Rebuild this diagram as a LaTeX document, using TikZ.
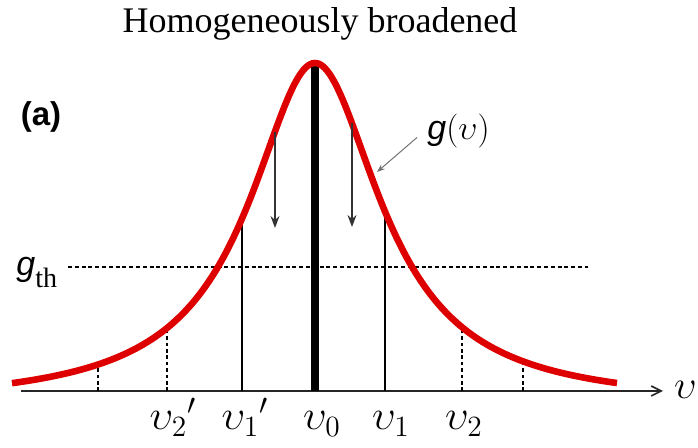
\RequirePackage{fix-cm}
\documentclass[tikz,border=0pt]{standalone}
\usepackage{fontspec}
\setmainfont{Liberation Serif}
\setsansfont{Liberation Sans}
\usepackage{tikz}
\usetikzlibrary{arrows.meta, positioning}

\definecolor{curvered}{RGB}{222,0,0}
\tikzset{
  declare function={lineshape(\x)=42.5+342.5/(1+((\x-315)/80)^2);},
  axis/.style={black!85, line width=0.8pt, -{Straight Barb[length=5pt,width=5pt]}},
  curve/.style={curvered, line width=3.3pt},
  mode/.style={black, line width=1pt},
  centermode/.style={black, line width=3.6pt},
  dropline/.style={black, line width=1.1pt, dash pattern=on 1.8pt off 1.4pt},
  threshold/.style={black, line width=1pt, dash pattern=on 2pt off 1.4pt},
  pull/.style={black!80, line width=0.7pt, -{Stealth[length=6pt,width=4.5pt,inset=2pt]}},
  pointer/.style={black!55, line width=0.5pt, -{Stealth[length=4pt,width=3pt]}},
  freqlabel/.style={anchor=base, inner sep=0pt, font=\fontsize{21}{25}\selectfont},
}

\begin{document}
\begin{tikzpicture}[x=0.5pt, y=0.5pt]
\useasboundingbox (0,0) rectangle (698,448);

% Frequency axis
\coordinate (axl) at (21,57);
\coordinate (axr) at (663,57);
\draw[axis] (axl) -- (axr);
\node[anchor=base east, inner sep=0pt, font=\fontsize{20}{24}\selectfont] (nu) at (697,49) {$\upsilon$};

% Threshold gain
\coordinate (thl) at (68,181);
\coordinate (thr) at (588,181);
\draw[threshold] (thl) -- (thr);
\node[anchor=base west, inner sep=0pt, font=\fontsize{17}{20}\selectfont] (gth) at (16,172)
  {{\sffamily\itshape g}\raisebox{-6pt}{\fontsize{14}{16}\selectfont th}};

% Modes below threshold (dotted)
\foreach \xm/\nm in {98/m4, 167/m2, 462/m3, 523/m5}{
  \coordinate (\nm) at (\xm,{lineshape(\xm)});
  \draw[dropline] (\xm,57) -- (\nm);
}

% Modes above threshold
\coordinate (m1l) at (242,{lineshape(242)});
\coordinate (m1r) at (385,{lineshape(385)});
\coordinate (m0) at (315,{lineshape(315)-3});
\draw[mode] (242,57) -- (m1l);
\draw[mode] (385,57) -- (m1r);
\draw[centermode] (315,57) -- (m0);

% Gain curve
\draw[curve] plot[domain=12:617, samples=140, smooth] (\x,{lineshape(\x)});

% Gain pulled down
\coordinate (pl) at (275,316);
\coordinate (pr) at (352,325);
\draw[pull] (pl) -- ++(0,-96);
\draw[pull] (pr) -- ++(0,-104);

% Curve label
\node[anchor=base west, inner sep=0pt, font=\fontsize{17}{20}\selectfont] (glabel) at (427,308)
  {{\sffamily\itshape g}$(\upsilon)$};
\coordinate (ptr) at (377,276);
\draw[pointer] ([shift={(-10,-6)}]glabel.west) -- (ptr);

% Frequency labels
\node[freqlabel] (n2l) at (173,18) {${\upsilon_2}'$};
\node[freqlabel] (n1l) at (245,18) {${\upsilon_1}'$};
\node[freqlabel] (n0)  at (322,18) {$\upsilon_0$};
\node[freqlabel] (n1r) at (391,18) {$\upsilon_1$};
\node[freqlabel] (n2r) at (464,18) {$\upsilon_2$};

% Panel and title
\node[font=\sffamily\bfseries\fontsize{16.5}{20}\selectfont] (panel) at (41,331) {(a)};
\node[anchor=base, font=\fontsize{18}{22}\selectfont] (title) at (320,415) {Homogeneously broadened};
\end{tikzpicture}
\end{document}
